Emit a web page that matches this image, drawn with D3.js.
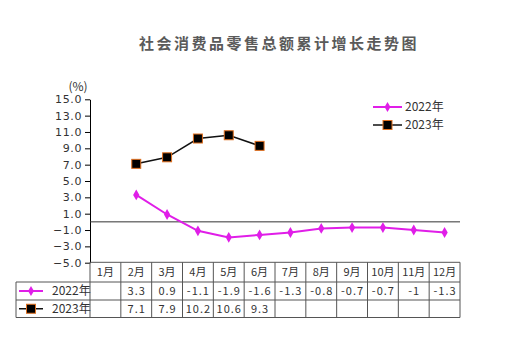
<!DOCTYPE html>
<html><head><meta charset="utf-8">
<script src="https://cdn.jsdelivr.net/npm/d3@7/dist/d3.min.js"></script>
<style>body{margin:0;background:#fff}</style>
</head><body>
<svg id="c" width="525" height="358"></svg>
<script>
const title = "社会消费品零售总额累计增长走势图";
const months = ["1月","2月","3月","4月","5月","6月","7月","8月","9月","10月","11月","12月"];
const s2022 = [null,3.3,0.9,-1.1,-1.9,-1.6,-1.3,-0.8,-0.7,-0.7,-1,-1.3];
const s2023 = [null,7.1,7.9,10.2,10.6,9.3,null,null,null,null,null,null];
const yTicks = [15,13,11,9,7,5,3,1,-1,-3,-5];
const seriesNames = ["2022年","2023年"];

const svg = d3.select("#c");
const fontCN = "'Noto Sans CJK SC','Noto Sans',sans-serif";
const magenta = "#e01ee8", orange = "#e07020";

const x = d3.scaleBand().domain(months).range([90,460]).padding(0);
const y = d3.scaleLinear().domain([-5,15]).range([262.7,99.3]);

// title
svg.append("text").attr("x",279).attr("y",49).attr("text-anchor","middle")
  .attr("font-family",fontCN).attr("font-size",15).attr("font-weight","bold")
  .attr("letter-spacing",2.5).attr("fill","#5a5a5a").text(title);

// y axis
const yAxis = d3.axisLeft(y).tickValues(yTicks).tickSize(5).tickSizeOuter(0)
  .tickFormat(d3.format(".1f"));
const ga = svg.append("g").attr("transform","translate(90,0)").call(yAxis);
ga.select(".domain").attr("stroke","#000");
ga.selectAll(".tick line").attr("stroke","#000");
ga.selectAll(".tick text").attr("font-family","'DejaVu Sans',sans-serif").attr("font-size",11)
  .attr("letter-spacing",0.6).attr("fill","#333").attr("x",-8);
svg.append("text").attr("x",78).attr("y",91).attr("text-anchor","middle")
  .attr("font-family",fontCN).attr("font-size",12).attr("fill","#333").text("(%)");

// zero line
svg.append("line").attr("x1",90).attr("x2",460).attr("y1",y(0)).attr("y2",y(0))
  .attr("stroke","#333").attr("stroke-width",1);

const cx = d => x(d) + x.bandwidth()/2;

// 2022 line
const pts22 = months.map((m,i)=>({m,v:s2022[i]})).filter(d=>d.v!==null);
svg.append("path").datum(pts22)
  .attr("d", d3.line().x(d=>cx(d.m)).y(d=>y(d.v)))
  .attr("fill","none").attr("stroke",magenta).attr("stroke-width",2);
svg.selectAll(".d22").data(pts22).enter().append("path")
  .attr("d", d3.symbol().type(d3.symbolDiamond).size(34))
  .attr("transform",d=>`translate(${cx(d.m)},${y(d.v)})`).attr("fill",magenta);

// 2023 line
const pts23 = months.map((m,i)=>({m,v:s2023[i]})).filter(d=>d.v!==null);
svg.append("path").datum(pts23)
  .attr("d", d3.line().x(d=>cx(d.m)).y(d=>y(d.v)))
  .attr("fill","none").attr("stroke","#111").attr("stroke-width",1.5);
svg.selectAll(".d23").data(pts23).enter().append("rect")
  .attr("x",d=>cx(d.m)-4.5).attr("y",d=>y(d.v)-4.5).attr("width",9).attr("height",9)
  .attr("fill","#000").attr("stroke",orange).attr("stroke-width",1);

// legend (in plot)
function legendItem(g, i, lx, ly, w) {
  if (i===0) {
    g.append("line").attr("x1",lx).attr("x2",lx+w).attr("y1",ly).attr("y2",ly)
      .attr("stroke",magenta).attr("stroke-width",2);
    g.append("path").attr("d",d3.symbol().type(d3.symbolDiamond).size(30))
      .attr("transform",`translate(${lx+w/2},${ly})`).attr("fill",magenta);
  } else {
    g.append("line").attr("x1",lx).attr("x2",lx+w).attr("y1",ly).attr("y2",ly)
      .attr("stroke","#111").attr("stroke-width",1.5);
    g.append("rect").attr("x",lx+w/2-4.5).attr("y",ly-4.5).attr("width",9).attr("height",9)
      .attr("fill","#000").attr("stroke",orange);
  }
}
const lg = svg.append("g");
seriesNames.forEach((n,i)=>{
  const ly = 107 + i*18;
  legendItem(lg, i, 373, ly, 29);
  lg.append("text").attr("x",405).attr("y",ly+4).attr("font-family",fontCN)
    .attr("font-size",12).attr("fill","#333").text(n);
});

// table
const rowY = [262.3, 282, 300, 317.5];
const tg = svg.append("g");
const tl = (x1,y1,x2,y2)=>tg.append("line").attr("x1",x1).attr("y1",y1).attr("x2",x2).attr("y2",y2)
  .attr("stroke","#555").attr("stroke-width",1);
tl(90,rowY[0],460,rowY[0]);
tl(16,rowY[1],460,rowY[1]);
tl(16,rowY[2],460,rowY[2]);
tl(16,rowY[3],460,rowY[3]);
tl(16,rowY[1],16,rowY[3]);
tl(90,rowY[0],90,rowY[3]);
months.forEach(m=>tl(x(m)+x.bandwidth(),rowY[0],x(m)+x.bandwidth(),rowY[3]));

const cellText = (tx,ty,t,ls)=>tg.append("text").attr("x",tx).attr("y",ty).attr("text-anchor","middle")
  .attr("font-family",fontCN).attr("font-size",11).attr("letter-spacing",ls).attr("fill","#333").text(t);
months.forEach((m,i)=>{
  cellText(cx(m),(rowY[0]+rowY[1])/2+4,m,0);
  if (s2022[i]!==null) cellText(cx(m)+0.5,(rowY[1]+rowY[2])/2+4,String(s2022[i]),1);
  if (s2023[i]!==null) cellText(cx(m)+0.5,(rowY[2]+rowY[3])/2+4,String(s2023[i]),1);
});
seriesNames.forEach((n,i)=>{
  const ly = (rowY[1+i]+rowY[2+i])/2;
  legendItem(tg, i, 19, ly, 24);
  tg.append("text").attr("x",52).attr("y",ly+4).attr("font-family",fontCN)
    .attr("font-size",12).attr("fill","#333").text(n);
});
</script>
</body></html>
